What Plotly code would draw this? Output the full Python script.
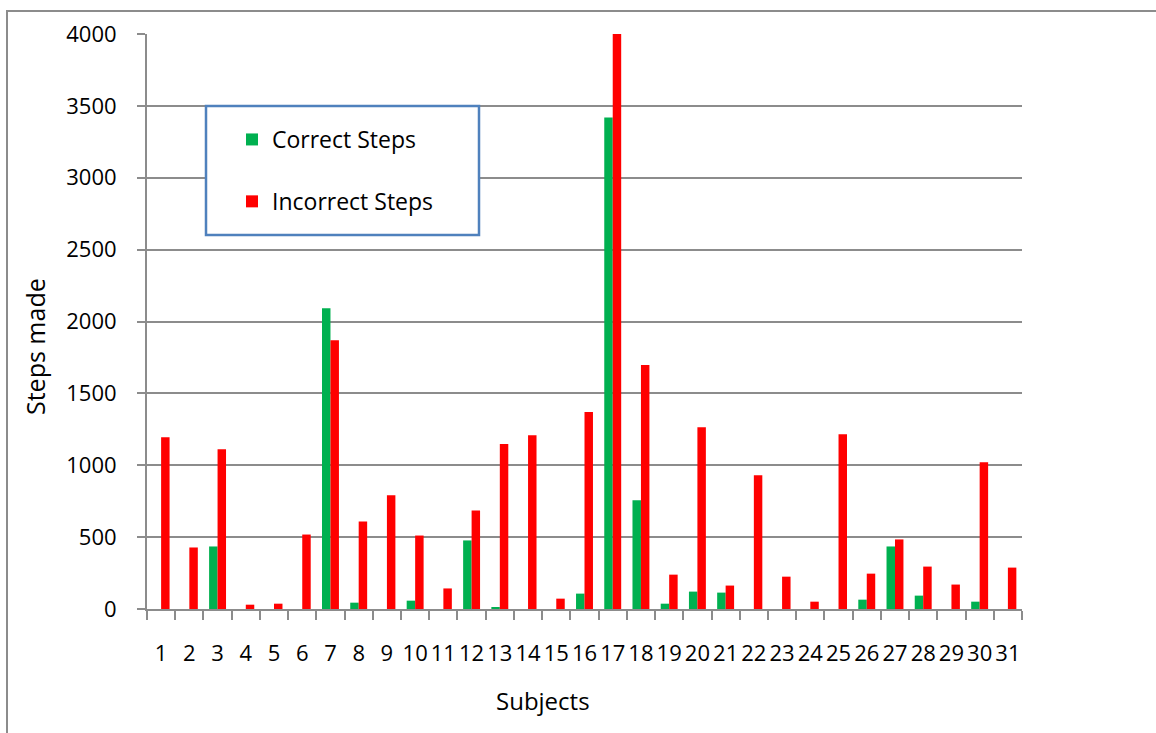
import plotly.graph_objects as go

# Steps made by each subject
subjects = [str(i) for i in range(1, 32)]
correct_steps = [0, 0, 435, 0, 0, 0, 2093, 44, 0, 58,
                 0, 477, 9, 0, 0, 107, 3420, 756, 37, 121,
                 114, 0, 0, 0, 0, 65, 435, 93, 0, 51, 0]
incorrect_steps = [1195, 428, 1112, 30, 37, 518, 1870, 609, 791, 511,
                   143, 686, 1147, 1209, 72, 1370, 4000, 1698, 239, 1265,
                   163, 930, 225, 51, 1216, 246, 484, 295, 170, 1021, 288]
y_ticks = [0, 500, 1000, 1500, 2000, 2500, 3000, 3500, 4000]

FONT = "Open Sans"
GRID = "#8c8c8c"

# plot area in pixels
W_PX, H_PX = 1156, 733
L, R, T, B = 147, 1022, 34, 609


def xp(px):
    return (px - L) / (R - L)


def yp(py):
    return (B - py) / (B - T)


fig = go.Figure()
fig.add_trace(go.Bar(x=subjects, y=correct_steps, name="Correct Steps",
                     marker=dict(color="#00B050", line=dict(width=0)),
                     legendgroup="c"))
fig.add_trace(go.Bar(x=subjects, y=incorrect_steps, name="Incorrect Steps",
                     marker=dict(color="#FF0000", line=dict(width=0)),
                     legendgroup="i"))

fig.update_layout(
    width=W_PX, height=H_PX,
    margin=dict(l=L, r=W_PX - R, t=T, b=H_PX - B, autoexpand=False),
    paper_bgcolor="white", plot_bgcolor="white",
    barmode="group", bargap=0.40, bargroupgap=0,
    font=dict(family=FONT, color="black", size=22),
    showlegend=True,
    legend=dict(x=xp(232), y=yp(118), xanchor="left", yanchor="top",
                bgcolor="rgba(0,0,0,0)", borderwidth=0,
                font=dict(family=FONT, size=23, color="black"),
                tracegroupgap=29, traceorder="grouped"),
    xaxis=dict(type="category", tickson="boundaries", ticks="outside",
               ticklen=9, tickwidth=2, tickcolor=GRID, tickangle=0,
               showline=True, linecolor=GRID, linewidth=2,
               showgrid=False, ticklabelstandoff=24,
               tickfont=dict(family=FONT, size=22, color="black")),
    yaxis=dict(range=[0, 4000], tickvals=y_ticks, ticks="outside",
               ticklen=8, tickwidth=2, tickcolor=GRID,
               showline=True, linecolor=GRID, linewidth=2,
               showgrid=True, gridcolor=GRID, gridwidth=2,
               zeroline=False, ticklabelstandoff=16,
               tickfont=dict(family=FONT, size=22, color="black")),
    shapes=[
        # outer chart frame (left and top edges)
        dict(type="path", xref="paper", yref="paper",
             path=f"M {xp(7)} {yp(740)} L {xp(7)} {yp(11)} L {xp(1160)} {yp(11)}",
             line=dict(color="#8c8c8c", width=2)),
        # legend box
        dict(type="rect", xref="paper", yref="paper", layer="above",
             x0=xp(206), x1=xp(479), y0=yp(106), y1=yp(235),
             fillcolor="white", line=dict(color="#4F81BD", width=2.5)),
    ],
    annotations=[
        dict(text="Subjects", xref="paper", yref="paper",
             x=xp(543), y=yp(700), xanchor="center", yanchor="middle",
             showarrow=False,
             font=dict(family=FONT, size=24, color="black")),
        dict(text="Steps made", xref="paper", yref="paper",
             x=xp(35), y=yp(347), xanchor="center", yanchor="middle",
             showarrow=False, textangle=-90,
             font=dict(family=FONT, size=25, color="black")),
    ],
)

fig.write_html("out.html")
